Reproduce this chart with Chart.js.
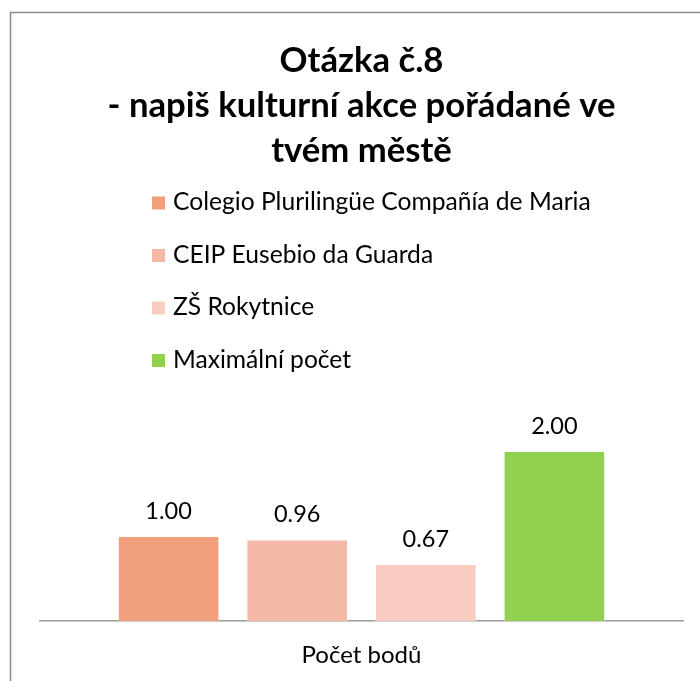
<!DOCTYPE html>
<html><head><meta charset="utf-8">
<script src="https://cdn.jsdelivr.net/npm/chart.js@4.4.0/dist/chart.umd.min.js"></script>
<style>html,body{margin:0;padding:0;background:#fff;overflow:hidden}
#wrap{position:relative;width:700px;height:681px;overflow:hidden}</style></head>
<body><div id="wrap"><canvas id="c" width="700" height="700"></canvas></div>
<script>
const titleLines = ["Otázka č.8", "- napiš kulturní akce pořádané ve", "tvém městě"];
const categories = ["Počet bodů"];
const seriesNames = ["Colegio Plurilingüe Compañía de Maria", "CEIP Eusebio da Guarda", "ZŠ Rokytnice", "Maximální počet"];
const colegioValues = [1.00];
const ceipValues = [0.96];
const zsValues = [0.67];
const maxValues = [2.00];
const seriesColors = ["#F0A07C", "#F4B9A6", "#F8CCC0", "#92D050"];
const yMin = 0, yMax = 2.5;

const FONT = 'Lato, "Open Sans", sans-serif';

function fitSize(text, weight, target) {
  const c = document.createElement('canvas').getContext('2d');
  c.font = weight + ' 100px ' + FONT;
  return 100 * target / c.measureText(text).width;
}

function build() {
  const titleSize = fitSize(titleLines[1], 'bold', 508);
  const legendSize = fitSize(seriesNames[0], 'normal', 418);
  const tickSize = fitSize(categories[0], 'normal', 120);
  const labelSize = fitSize('1.00', 'normal', 46.5);
  const titleLH = 44.7;
  const titleTop = 38.9;

  const frame = {
    id: 'frame',
    beforeDraw(chart) {
      const ctx = chart.ctx;
      ctx.save();
      ctx.fillStyle = '#fff';
      ctx.fillRect(0, 0, chart.width, chart.height);
      ctx.strokeStyle = '#8c8c8c';
      ctx.lineWidth = 1.5;
      ctx.beginPath();
      ctx.moveTo(10.5, chart.height);
      ctx.lineTo(10.5, 12.5);
      ctx.lineTo(chart.width, 12.5);
      ctx.stroke();
      ctx.restore();
    }
  };

  const legendPlugin = {
    id: 'vlegend',
    afterDraw(chart) {
      const ctx = chart.ctx;
      ctx.save();
      ctx.font = 'normal ' + legendSize + 'px ' + FONT;
      ctx.textBaseline = 'alphabetic';
      ctx.textAlign = 'left';
      chart.data.datasets.forEach((ds, i) => {
        const cy = 203 + i * 52.5;
        ctx.fillStyle = ds.backgroundColor;
        ctx.fillRect(152, cy - 6.5, 13, 13);
        ctx.fillStyle = '#000';
        ctx.fillText(ds.label, 173, cy + 7);
      });
      ctx.restore();
    }
  };

  const dataLabels = {
    id: 'dlabels',
    afterDatasetsDraw(chart) {
      const ctx = chart.ctx;
      ctx.save();
      ctx.font = 'normal ' + labelSize + 'px ' + FONT;
      ctx.fillStyle = '#000';
      ctx.textAlign = 'center';
      ctx.textBaseline = 'alphabetic';
      chart.data.datasets.forEach((ds, i) => {
        chart.getDatasetMeta(i).data.forEach((bar, j) => {
          ctx.fillText(ds.data[j].toFixed(2), bar.x, bar.y - 17);
        });
      });
      ctx.restore();
    }
  };

  const values = [colegioValues, ceipValues, zsValues, maxValues];
  const tickPad = 20;
  const tickLH = 1.2;
  const axisHeight = 2 * tickPad + tickSize * tickLH;
  new Chart(document.getElementById('c'), {
    type: 'bar',
    data: {
      labels: categories,
      datasets: seriesNames.map((n, i) => ({
        label: n,
        data: values[i],
        backgroundColor: seriesColors[i],
        borderColor: 'rgba(255,255,255,0.55)',
        borderWidth: 1,
        categoryPercentage: 0.8,
        barPercentage: 0.79
      }))
    },
    options: {
      responsive: false,
      animation: false,
      layout: { padding: { left: 40, right: 17, top: 0, bottom: 700 - 621 - axisHeight } },
      plugins: {
        legend: { display: false },
        tooltip: { enabled: false },
        title: {
          display: true,
          text: titleLines,
          color: '#000',
          font: { family: FONT, size: titleSize, weight: 'bold', lineHeight: titleLH / titleSize },
          padding: { top: titleTop, bottom: 408.5 - titleTop - 3 * titleLH }
        }
      },
      scales: {
        x: {
          grid: { display: false, drawTicks: false },
          border: { display: true, color: '#9a9a9a', width: 1.5 },
          ticks: { color: '#000', padding: tickPad, font: { family: FONT, size: tickSize, lineHeight: tickLH } }
        },
        y: { display: false, min: yMin, max: yMax }
      }
    },
    plugins: [frame, legendPlugin, dataLabels]
  });
}

if (document.fonts && document.fonts.load) {
  Promise.all([
    document.fonts.load('bold 30px Lato'),
    document.fonts.load('normal 24px Lato')
  ]).then(build, build);
} else build();
</script></body></html>
